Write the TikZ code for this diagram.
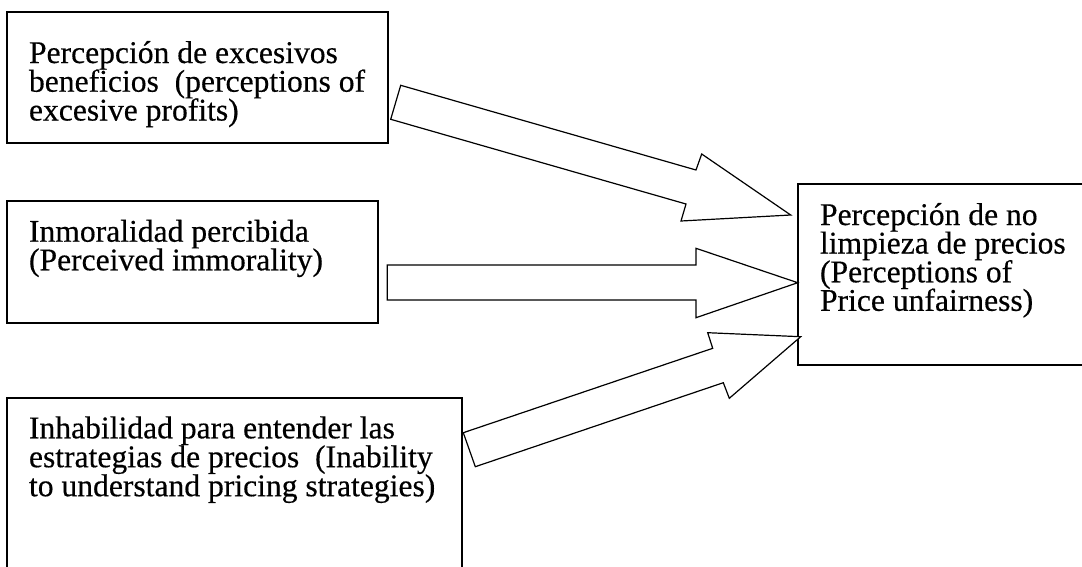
\documentclass[tikz,border=0pt]{standalone}
\usepackage{fontspec}
\setmainfont{Liberation Serif}[FakeBold=0.4]
\begin{document}
\begin{tikzpicture}[x=1pt,y=-1pt,
  box/.style={draw=black,line width=1.4pt,fill=none,inner sep=0pt},
  lbl/.style={anchor=base west,inner sep=0pt,outer sep=0pt,
    font=\fontsize{31.6}{29}\selectfont},
  blockarrow/.style={draw=black,fill=white,line width=1.2pt,line join=miter}]
\useasboundingbox (0,0) rectangle (1082,566);
\clip (0,0) rectangle (1082,566);

% the four concept boxes
\draw[box] (7,12) rectangle (388,143);
\draw[box] (7,201) rectangle (378,323);
\draw[box] (7,398) rectangle (462,620);
\draw[box] (798,184) rectangle (1120,365);

% box texts, one node per line
\node[lbl] (a1) at (29,63)    {Percepción de excesivos};
\node[lbl] (a2) at (29,91.7)  {beneficios\ \ (perceptions of};
\node[lbl] (a3) at (29,120.5) {excesive profits)};

\node[lbl] (b1) at (29,241.7) {Inmoralidad percibida};
\node[lbl] (b2) at (29,270.3) {(Perceived immorality)};

\node[lbl] (c1) at (29,438.3) {Inhabilidad para entender las};
\node[lbl] (c2) at (29,467.2) {estrategias de precios\ \ (Inability};
\node[lbl] (c3) at (29,496.2) {to understand pricing strategies)};

\node[lbl] (d1) at (820,225)   {Percepción de no};
\node[lbl] (d2) at (820,253.5) {limpieza de precios};
\node[lbl] (d3) at (820,282.3) {(Perceptions of};
\node[lbl] (d4) at (820,310.8) {Price unfairness)};

% block arrows into the outcome box
\draw[blockarrow] (400.7,85.3) -- (696,170) -- (701.7,154) -- (790.7,215)
  -- (681,221) -- (686,204) -- (390.7,119.3) -- cycle;
\draw[blockarrow] (387.3,265) -- (696,265) -- (696,248.3) -- (797.7,282.7)
  -- (696,317.7) -- (696,300) -- (387.3,300) -- cycle;
\draw[blockarrow] (463.3,432.7) -- (712.7,348.3) -- (707.7,332.7) -- (800.7,336.7)
  -- (729.3,398.3) -- (723.3,382.7) -- (475.3,466.7) -- cycle;
\end{tikzpicture}
\end{document}
